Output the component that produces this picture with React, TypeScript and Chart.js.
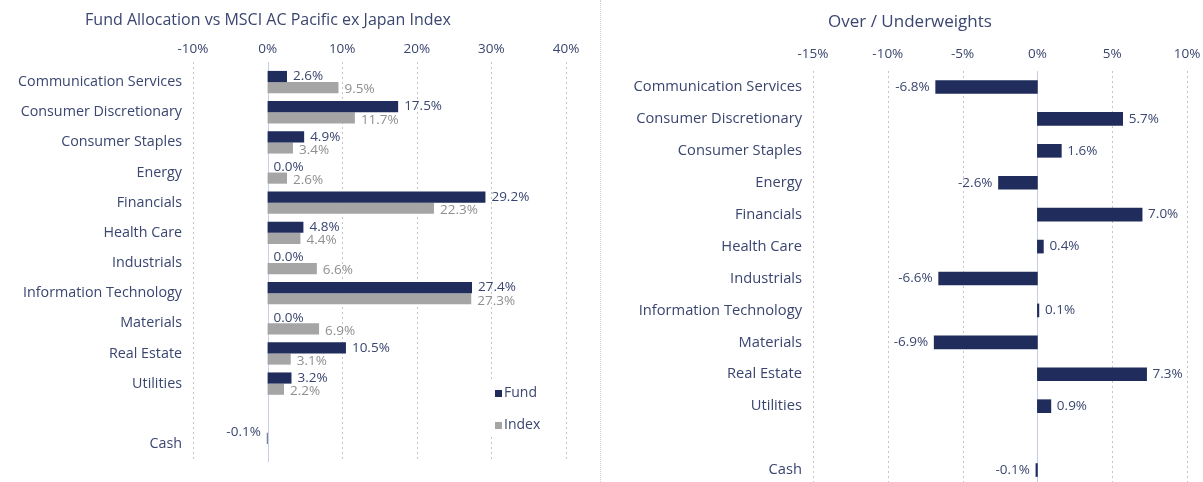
import React, { useEffect, useRef } from "react";
import { Chart, registerables } from "chart.js";

Chart.register(...registerables);

const categories = [
  "Communication Services",
  "Consumer Discretionary",
  "Consumer Staples",
  "Energy",
  "Financials",
  "Health Care",
  "Industrials",
  "Information Technology",
  "Materials",
  "Real Estate",
  "Utilities",
  "",
  "Cash",
];
const fundValues: (number | null)[] = [2.6, 17.5, 4.9, 0.0, 29.2, 4.8, 0.0, 27.4, 0.0, 10.5, 3.2, null, -0.1];
const indexValues: (number | null)[] = [9.5, 11.7, 3.4, 2.6, 22.3, 4.4, 6.6, 27.3, 6.9, 3.1, 2.2, null, null];
const activeValues: (number | null)[] = [-6.8, 5.7, 1.6, -2.6, 7.0, 0.4, -6.6, 0.1, -6.9, 7.3, 0.9, null, -0.1];
const leftTickValues = [-10, 0, 10, 20, 30, 40];
const rightTickValues = [-15, -10, -5, 0, 5, 10];
const leftTitle = "Fund Allocation vs MSCI AC Pacific ex Japan Index";
const rightTitle = "Over / Underweights";
const legendLabels = ["Fund", "Index"];

const NAVY = "#1f2c5c";
const GREY = "#a5a5a5";
const TEXT = "#3a4670";
const FONT = "'Open Sans', sans-serif";

function gridPlugin(ticks: number[], extTop: number, extBottom: number) {
  return {
    id: "customGrid",
    beforeDatasetsDraw(chart: any) {
      const ctx = chart.ctx;
      const xs = chart.scales.x;
      const area = chart.chartArea;
      ctx.save();
      ticks.forEach((t) => {
        const px = Math.round(xs.getPixelForValue(t)) + 0.5;
        ctx.beginPath();
        if (t === 0) {
          ctx.setLineDash([]);
          ctx.strokeStyle = "#c7cdee";
        } else {
          ctx.setLineDash([2, 3]);
          ctx.strokeStyle = "#c4c4c4";
        }
        ctx.lineWidth = 1;
        ctx.moveTo(px, area.top - extTop);
        ctx.lineTo(px, area.bottom + extBottom);
        ctx.stroke();
      });
      ctx.restore();
    },
  };
}

function labelPlugin(colors: string[], offsets: number[], gap: number) {
  return {
    id: "valueLabels",
    afterDatasetsDraw(chart: any) {
      const ctx = chart.ctx;
      ctx.save();
      ctx.font = `13.5px ${FONT}`;
      ctx.textBaseline = "middle";
      chart.data.datasets.forEach((ds: any, di: number) => {
        const meta = chart.getDatasetMeta(di);
        meta.data.forEach((el: any, i: number) => {
          const v = ds.data[i];
          if (v === null || v === undefined) return;
          ctx.fillStyle = colors[di];
          const txt = v.toFixed(1) + "%";
          if (v >= 0) {
            ctx.textAlign = "left";
            ctx.fillText(txt, el.x + gap, el.y + offsets[di]);
          } else {
            ctx.textAlign = "right";
            ctx.fillText(txt, el.x - gap, el.y + offsets[di] - (di === 0 && offsets.length > 1 ? 6 : 0));
          }
        });
      });
      ctx.restore();
    },
  };
}

function titlePlugin(text: string, cx: number, cy: number, size: number) {
  return {
    id: "titleText",
    afterDraw(chart: any) {
      const ctx = chart.ctx;
      ctx.save();
      ctx.font = `${size}px ${FONT}`;
      ctx.fillStyle = TEXT;
      ctx.textAlign = "center";
      ctx.textBaseline = "middle";
      ctx.fillText(text, cx, cy);
      ctx.restore();
    },
  };
}

const legendPlugin = {
  id: "customLegend",
  afterDraw(chart: any) {
    const ctx = chart.ctx;
    ctx.save();
    ctx.fillStyle = "#ffffff";
    ctx.fillRect(490, 380, 60, 56);
    ctx.font = `14px ${FONT}`;
    ctx.textBaseline = "middle";
    ctx.textAlign = "left";
    const cols = [NAVY, GREY];
    const ys = [393, 425];
    legendLabels.forEach((lab, i) => {
      ctx.fillStyle = cols[i];
      ctx.fillRect(495, ys[i] - 3, 7, 7);
      ctx.fillStyle = TEXT;
      ctx.fillText(lab, 504, ys[i]);
    });
    ctx.restore();
  },
};

function baseScales(min: number, max: number, step: number, yWidth: number, xPad: number, catSize: number) {
  return {
    x: {
      position: "top" as const,
      min,
      max,
      grid: { display: false, drawTicks: false },
      border: { display: false },
      ticks: {
        stepSize: step,
        padding: xPad,
        color: TEXT,
        font: { family: FONT, size: 13.5 },
        callback: (v: any) => v + "%",
      },
      afterFit: (s: any) => {
        s.height = 26;
        s.paddingLeft = 0;
        s.paddingRight = 0;
      },
    },
    y: {
      grid: { display: false, drawTicks: false },
      border: { display: false },
      ticks: {
        padding: 11,
        color: TEXT,
        font: { family: FONT, size: catSize },
        autoSkip: false,
      },
      afterFit: (s: any) => {
        s.width = yWidth;
        s.paddingTop = 0;
        s.paddingBottom = 0;
      },
    },
  };
}

function LeftChart() {
  const ref = useRef<HTMLCanvasElement>(null);
  useEffect(() => {
    const chart = new Chart(ref.current as HTMLCanvasElement, {
      type: "bar",
      data: {
        labels: categories,
        datasets: [
          { label: "Fund", data: fundValues, backgroundColor: NAVY, categoryPercentage: 0.74, barPercentage: 1.0 },
          { label: "Index", data: indexValues, backgroundColor: GREY, categoryPercentage: 0.74, barPercentage: 1.0 },
        ],
      },
      options: {
        indexAxis: "y",
        responsive: false,
        animation: false,
        layout: { padding: { top: 41, bottom: 23, left: 0, right: 34 } },
        plugins: { legend: { display: false }, tooltip: { enabled: false }, title: { display: false } },
        scales: baseScales(-10, 40, 10, 193, 10, 14.3) as any,
      },
      plugins: [
        gridPlugin(leftTickValues, 5, 3),
        labelPlugin([TEXT, "#8f8f8f"], [0, 2], 6),
        titlePlugin(leftTitle, 268, 20, 16),
        legendPlugin,
      ],
    });
    return () => chart.destroy();
  }, []);
  return <canvas ref={ref} width={600} height={482} style={{ position: "absolute", left: 0, top: 0 }} />;
}

function RightChart() {
  const ref = useRef<HTMLCanvasElement>(null);
  useEffect(() => {
    const chart = new Chart(ref.current as HTMLCanvasElement, {
      type: "bar",
      data: {
        labels: categories,
        datasets: [{ label: "Over / Underweight", data: activeValues, backgroundColor: NAVY, barThickness: 13 }],
      },
      options: {
        indexAxis: "y",
        responsive: false,
        animation: false,
        layout: { padding: { top: 45, bottom: 4, left: 0, right: 16 } },
        plugins: { legend: { display: false }, tooltip: { enabled: false }, title: { display: false } },
        scales: baseScales(-15, 10, 5, 213, 9, 14.7) as any,
      },
      plugins: [
        gridPlugin(rightTickValues, 0, 4),
        labelPlugin([TEXT], [0], 6),
        titlePlugin(rightTitle, 310, 22, 17),
      ],
    });
    return () => chart.destroy();
  }, []);
  return <canvas ref={ref} width={603} height={490} style={{ position: "absolute", left: 600, top: 0 }} />;
}

export default function App() {
  return (
    <div style={{ position: "fixed", left: 0, top: 0, width: 1203, height: 482, overflow: "hidden", background: "#fff" }}>
      <LeftChart />
      <RightChart />
      <div style={{ position: "absolute", left: 600, top: 0, width: 0, height: 482, borderLeft: "1px dotted #d0d0d0" }} />
    </div>
  );
}
